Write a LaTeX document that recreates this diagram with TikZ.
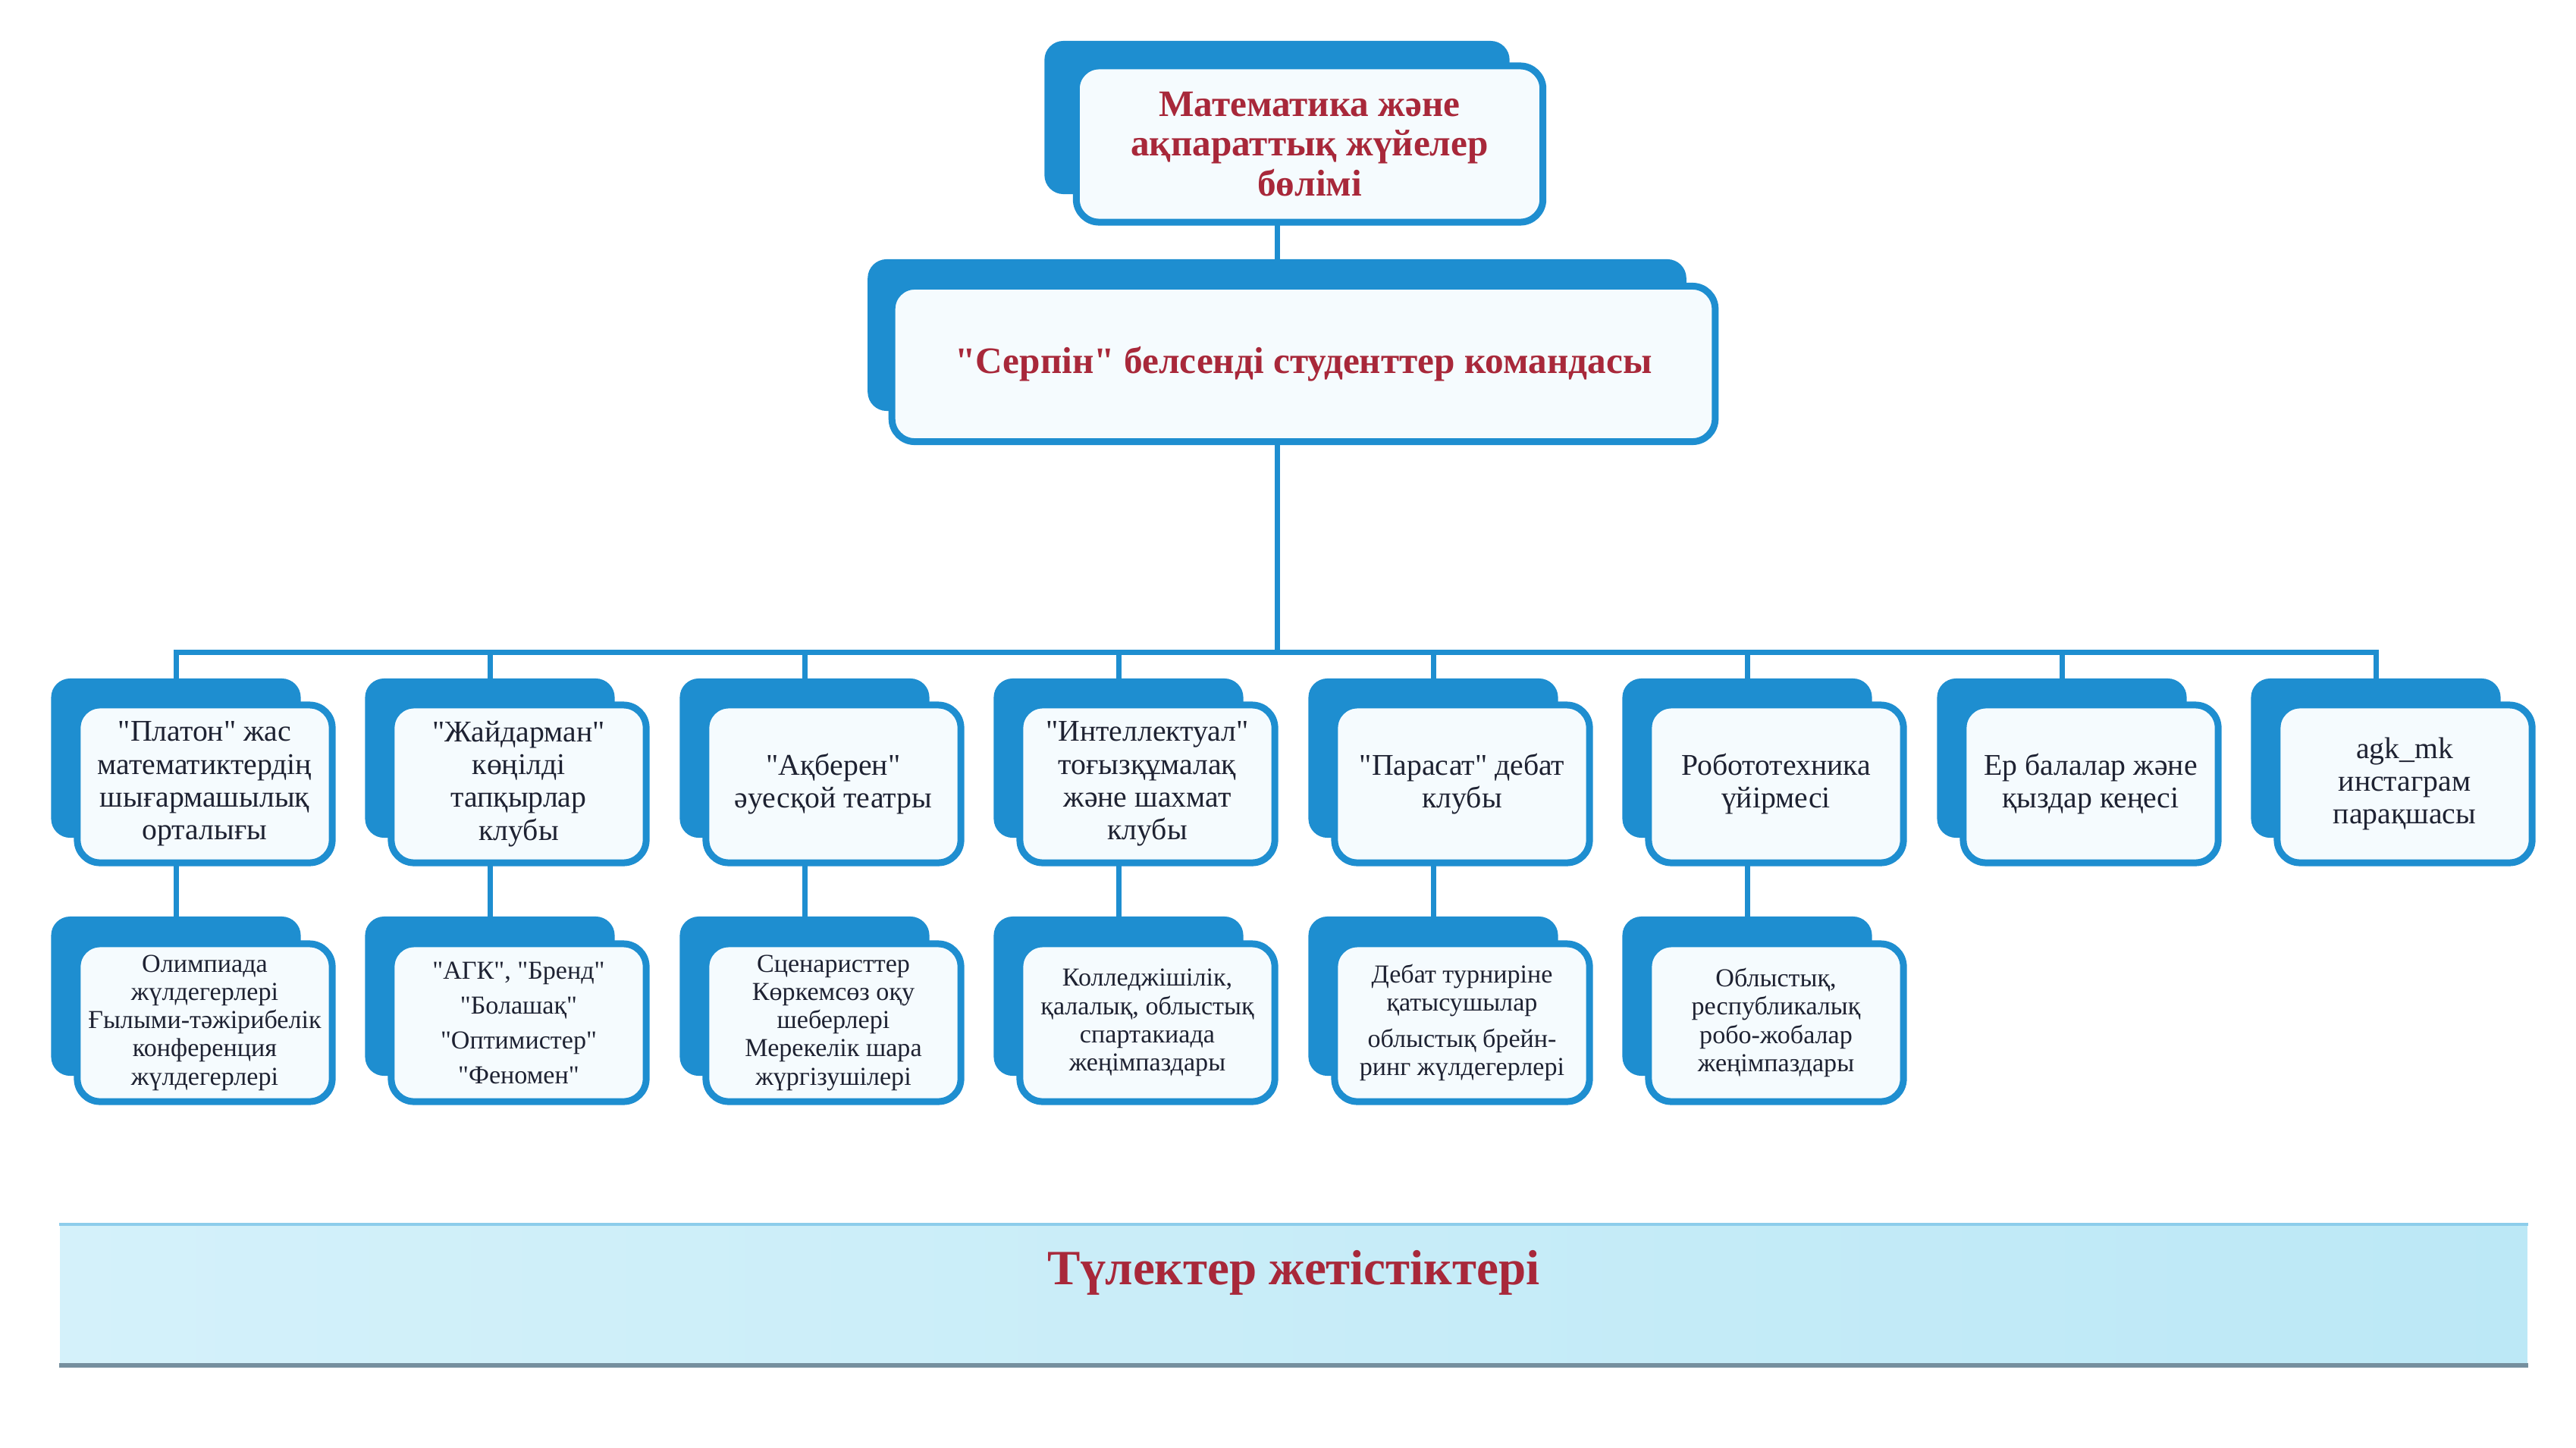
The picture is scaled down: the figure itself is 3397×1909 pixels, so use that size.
\documentclass[tikz,border=0pt]{standalone}
\usepackage{fontspec}
\setmainfont{Liberation Serif}[Ligatures=TeXOff]
\usetikzlibrary{positioning}

\definecolor{skyblue}{RGB}{30,142,208}
\definecolor{paleblue}{RGB}{245,251,254}
\definecolor{titlered}{RGB}{168,40,58}
\definecolor{inkdark}{RGB}{30,34,50}
\definecolor{bannerL}{RGB}{212,241,250}
\definecolor{bannerM}{RGB}{240,250,254}
\definecolor{bannerR}{RGB}{188,232,246}

\begin{document}
\begin{tikzpicture}[x=0.01cm,y=-0.01cm,
  back/.style={fill=skyblue, rounded corners=0.25cm, minimum width=3.29cm, minimum height=2.10cm, inner sep=0pt},
  front/.style={draw=skyblue, line width=0.09cm, fill=paleblue, rounded corners=0.3cm, minimum width=3.36cm, minimum height=2.08cm, inner sep=0pt, align=center, text=inkdark, font=\fontsize{11.3}{12.3}\selectfont},
  subfront/.style={front, font=\fontsize{9.7}{10.6}\selectfont},
  headfront/.style={front, text=titlered, font=\fontsize{14}{15}\selectfont\bfseries},
  link/.style={draw=skyblue, line width=0.07cm, line cap=rect}]
\useasboundingbox (0,0) rectangle (3397,1909);

% department and team
\node[back, minimum width=6.13cm, minimum height=2.02cm] (deptb) at (1684,155) {};
\node[headfront, minimum width=6.15cm, minimum height=2.06cm] (dept) at (1727,190) {Математика және\\ақпараттық жүйелер\\бөлімі};
\node[back, minimum width=10.79cm, minimum height=2.00cm] (serpb) at (1684,442) {};
\node[headfront, minimum width=10.85cm, minimum height=2.05cm] (serp) at (1719,480) {"Серпін" белсенді студенттер командасы};

% clubs
\node[back] (clubb1) at (232,1000) {};
\node[back] (clubb2) at (646,1000) {};
\node[back] (clubb3) at (1061,1000) {};
\node[back] (clubb4) at (1475,1000) {};
\node[back] (clubb5) at (1890,1000) {};
\node[back] (clubb6) at (2304,1000) {};
\node[back] (clubb7) at (2719,1000) {};
\node[back] (clubb8) at (3133,1000) {};
\node[front] (club1) at (270,1034) {"Платон" жас\\математиктердің\\шығармашылық\\орталығы};
\node[front] (club2) at (684,1034) {"Жайдарман"\\көңілді\\тапқырлар\\клубы};
\node[front] (club3) at (1099,1034) {"Ақберен"\\әуесқой театры};
\node[front] (club4) at (1513,1034) {"Интеллектуал"\\тоғызқұмалақ\\және шахмат\\клубы};
\node[front] (club5) at (1928,1034) {"Парасат" дебат\\клубы};
\node[front] (club6) at (2342,1034) {Робототехника\\үйірмесі};
\node[front] (club7) at (2757,1034) {Ер балалар және\\қыздар кеңесі};
\node[front] (club8) at (3171,1034) {agk\_mk\\инстаграм\\парақшасы};

% results
\node[back] (winb1) at (232,1314) {};
\node[back] (winb2) at (646,1314) {};
\node[back] (winb3) at (1061,1314) {};
\node[back] (winb4) at (1475,1314) {};
\node[back] (winb5) at (1890,1314) {};
\node[back] (winb6) at (2304,1314) {};
\node[subfront] (win1) at (270,1349) {Олимпиада\\жүлдегерлері\\Ғылыми-тәжірибелік\\конференция\\жүлдегерлері};
\node[subfront] (win2) at (684,1349) {"АГК", "Бренд"\\[2.5pt]"Болашақ"\\[2.5pt]"Оптимистер"\\[2.5pt]"Феномен"};
\node[subfront] (win3) at (1099,1349) {Сценаристтер\\Көркемсөз оқу\\шеберлері\\Мерекелік шара\\жүргізушілері};
\node[subfront] (win4) at (1513,1349) {Колледжішілік,\\қалалық, облыстық\\спартакиада\\жеңімпаздары};
\node[subfront] (win5) at (1928,1349) {Дебат турниріне\\қатысушылар\\[3pt]облыстық брейн-\\ринг жүлдегерлері};
\node[subfront] (win6) at (2342,1349) {Облыстық,\\республикалық\\робо-жобалар\\жеңімпаздары};

% graduates banner
\node[minimum width=32.52cm, minimum height=1.84cm, inner sep=0pt, left color=bannerL, middle color=bannerM, right color=bannerR] (grad) at (1706,1708) {};
\draw[bannerR!70!skyblue, line width=0.04cm] (grad.north west) -- (grad.north east);
\draw[inkdark!45!bannerR, line width=0.06cm] (grad.south west) -- (grad.south east);
\node[text=titlered, font=\fontsize{18.5}{20}\selectfont\bfseries] (gradtext) at (1706,1679) {Түлектер жетістіктері};

% connectors
\coordinate (bus) at (1684,860);
\draw[link] (dept.south -| serpb) -- (serpb.north);
\draw[link] (serpb |- serp.south) -- (bus);
\draw[link] (clubb1.north |- bus) -- (clubb8.north |- bus);
\draw[link] (clubb1.north |- bus) -- (clubb1.north);
\draw[link] (clubb2.north |- bus) -- (clubb2.north);
\draw[link] (clubb3.north |- bus) -- (clubb3.north);
\draw[link] (clubb4.north |- bus) -- (clubb4.north);
\draw[link] (clubb5.north |- bus) -- (clubb5.north);
\draw[link] (clubb6.north |- bus) -- (clubb6.north);
\draw[link] (clubb7.north |- bus) -- (clubb7.north);
\draw[link] (clubb8.north |- bus) -- (clubb8.north);
\draw[link] (clubb1 |- club1.south) -- (winb1.north);
\draw[link] (clubb2 |- club2.south) -- (winb2.north);
\draw[link] (clubb3 |- club3.south) -- (winb3.north);
\draw[link] (clubb4 |- club4.south) -- (winb4.north);
\draw[link] (clubb5 |- club5.south) -- (winb5.north);
\draw[link] (clubb6 |- club6.south) -- (winb6.north);
\end{tikzpicture}
\end{document}
